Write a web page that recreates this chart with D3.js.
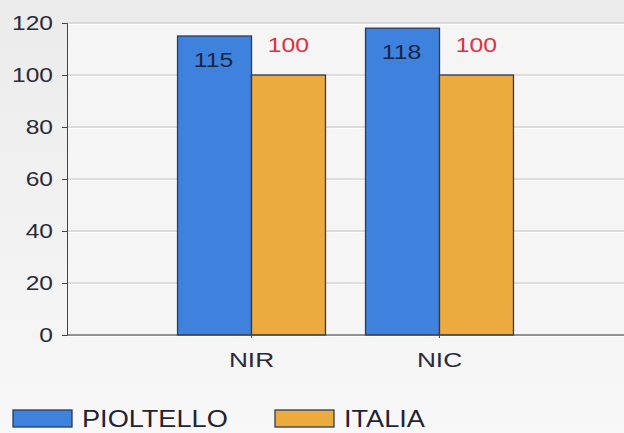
<!DOCTYPE html>
<html>
<head>
<meta charset="utf-8">
<script src="https://cdn.jsdelivr.net/npm/d3@7"></script>
<style>
body { margin: 0; background: #f1f1f1; }
svg { display: block; font-family: "Liberation Sans", Arial, sans-serif; }
</style>
</head>
<body>
<div id="chart-area"></div>
<script>

const categories = ["NIR", "NIC"];
const pioltello = [115, 118];
const italia = [100, 100];
const yTicks = [0, 20, 40, 60, 80, 100, 120];

const width = 624;
const height = 433;
const margin = {top: 23, right: 0, bottom: 98, left: 67};

var svg = d3.select("#chart-area").append("svg")
	.attr("width", width)
	.attr("height", height);

// testo allargato in orizzontale come nell'originale
function stretch(sel, k) {
	sel.each(function() {
		var t = d3.select(this);
		var x = +t.attr("x") || 0;
		t.attr("x", x / k).attr("transform", `scale(${k},1)`);
	});
}

// sfondo
var defs = svg.append("defs");
var grad = defs.append("linearGradient").attr("id", "bg").attr("x1", 0).attr("x2", 0).attr("y1", 0).attr("y2", 1);
grad.append("stop").attr("offset", "0%").attr("stop-color", "#ebebeb");
grad.append("stop").attr("offset", "100%").attr("stop-color", "#f8f8f8");
svg.append("rect").attr("width", width).attr("height", height).attr("fill", "url(#bg)");

var x = d3.scaleBand()
	.domain(categories)
	.range([margin.left, width - margin.right])
	.paddingInner(0.213)
	.paddingOuter(0.588);

var x1 = d3.scaleBand()
	.domain(["PIOLTELLO", "ITALIA"])
	.range([0, x.bandwidth()]);

var y = d3.scaleLinear()
	.domain([0, 120])
	.range([height - margin.bottom, margin.top]);

// area del grafico
svg.append("rect")
	.attr("x", margin.left)
	.attr("y", margin.top)
	.attr("width", width - margin.left - margin.right)
	.attr("height", y(0) - margin.top)
	.attr("fill", "#f5f5f5");

// griglia
svg.selectAll(".grid")
	.data(yTicks)
	.enter().append("line")
	.attr("class", "grid")
	.attr("x1", margin.left)
	.attr("x2", width - margin.right)
	.attr("y1", d => y(d))
	.attr("y2", d => y(d))
	.attr("stroke", "#c4c4c4")
	.attr("stroke-width", 1);
svg.selectAll(".grid2")
	.data(yTicks)
	.enter().append("line")
	.attr("class", "grid2")
	.attr("x1", margin.left)
	.attr("x2", width - margin.right)
	.attr("y1", d => y(d) + 1.5)
	.attr("y2", d => y(d) + 1.5)
	.attr("stroke", "#ffffff")
	.attr("stroke-width", 1);

// barre
var groups = svg.selectAll(".group")
	.data(categories)
	.enter().append("g")
	.attr("class", "group")
	.attr("transform", d => `translate(${x(d)},0)`);

groups.append("rect")
	.attr("x", x1("PIOLTELLO"))
	.attr("y", (d, i) => y(pioltello[i]))
	.attr("width", x1.bandwidth())
	.attr("height", (d, i) => y(0) - y(pioltello[i]))
	.attr("fill", "#3e82de")
	.attr("stroke", "#2c3a5c")
	.attr("stroke-width", 1.3);

groups.append("rect")
	.attr("x", x1("ITALIA"))
	.attr("y", (d, i) => y(italia[i]))
	.attr("width", x1.bandwidth())
	.attr("height", (d, i) => y(0) - y(italia[i]))
	.attr("fill", "#ebab3f")
	.attr("stroke", "#2c3a5c")
	.attr("stroke-width", 1.3);

// etichette
var lab1 = groups.append("text")
	.attr("x", x1("PIOLTELLO") + x1.bandwidth() / 2 - 1)
	.attr("y", (d, i) => y(pioltello[i]) + 31)
	.attr("text-anchor", "middle")
	.attr("font-size", 21)
	.attr("fill", "#1a2640")
	.text((d, i) => pioltello[i]);
stretch(lab1, 1.18);

var lab2 = groups.append("text")
	.attr("x", x1("ITALIA") + x1.bandwidth() / 2)
	.attr("y", (d, i) => y(italia[i]) - 23)
	.attr("text-anchor", "middle")
	.attr("font-size", 21)
	.attr("fill", "#e0303e")
	.text((d, i) => italia[i]);
stretch(lab2, 1.18);

// assi
var yAxis = svg.append("g")
	.attr("transform", `translate(${margin.left},0)`)
	.call(d3.axisLeft(y).tickValues(yTicks).tickSize(5).tickPadding(9));
yAxis.selectAll("text").attr("font-size", 21).attr("fill", "#2a2a3a").attr("font-family", "Liberation Sans, Arial, sans-serif");
yAxis.selectAll("line, path").attr("stroke", "#444");
stretch(yAxis.selectAll("text"), 1.17);

var xAxis = svg.append("g")
	.attr("transform", `translate(0,${y(0)})`)
	.call(d3.axisBottom(x).tickSize(3).tickPadding(14));
xAxis.select(".domain").attr("d", `M${margin.left},0H${width}`);
xAxis.selectAll("text").attr("font-size", 21).attr("fill", "#2a2a3a").attr("font-family", "Liberation Sans, Arial, sans-serif");
xAxis.selectAll("line, path").attr("stroke", "#444");
stretch(xAxis.selectAll("text"), 1.25);

// legenda
var legend = [
	{name: "PIOLTELLO", color: "#3e82de", x: 13},
	{name: "ITALIA", color: "#ebab3f", x: 275}
];
var lg = svg.selectAll(".legend")
	.data(legend)
	.enter().append("g")
	.attr("class", "legend")
	.attr("transform", d => `translate(${d.x},410)`);
lg.append("rect")
	.attr("width", 59)
	.attr("height", 17)
	.attr("fill", d => d.color)
	.attr("stroke", "#2c3a5c")
	.attr("stroke-width", 1.3);
var lgText = lg.append("text")
	.attr("x", 69)
	.attr("y", 17)
	.attr("font-size", 23)
	.attr("fill", "#222233")
	.text(d => d.name);
stretch(lgText, 1.18);

</script>
</body>
</html>
